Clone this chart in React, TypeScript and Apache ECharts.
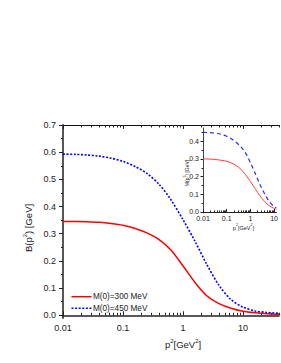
import React, { useEffect, useRef } from "react";
import * as echarts from "echarts";

const FONT = "Liberation Sans, Arial, sans-serif";

// main plot: B(p^2) [GeV] vs p^2 [GeV^2]
const p2Main = [0.01, 0.016, 0.025, 0.04, 0.063, 0.1, 0.16, 0.25, 0.4, 0.63, 1, 1.6, 2.5, 4, 6.3, 10, 16, 25, 40];
const bM300 = [0.345, 0.3447, 0.3438, 0.3418, 0.3375, 0.331, 0.3195, 0.303, 0.278, 0.24, 0.182, 0.12, 0.072, 0.043, 0.026, 0.015, 0.0092, 0.0058, 0.0037];
const bM450 = [0.593, 0.592, 0.5895, 0.5855, 0.578, 0.566, 0.547, 0.522, 0.482, 0.425, 0.352, 0.271, 0.187, 0.11, 0.058, 0.03, 0.016, 0.0105, 0.007];

// inset: M(p^2) [GeV] vs p^2 [GeV^2]
const p2Inset = [0.01, 0.016, 0.025, 0.04, 0.063, 0.1, 0.16, 0.25, 0.4, 0.63, 1, 1.6, 2.5, 4, 6.3, 10, 12.5];
const mM300 = [0.3, 0.2995, 0.298, 0.2955, 0.2915, 0.287, 0.277, 0.262, 0.241, 0.21, 0.172, 0.131, 0.092, 0.059, 0.035, 0.02, 0.015];
const mM450 = [0.45, 0.4495, 0.4475, 0.444, 0.438, 0.428, 0.413, 0.394, 0.368, 0.333, 0.279, 0.218, 0.157, 0.102, 0.058, 0.03, 0.022];

const seriesNames = ["M(0)=300 MeV", "M(0)=450 MeV"];

const xMajorMain = [0.01, 0.1, 1, 10];
const xMinorMain = [0.02, 0.03, 0.04, 0.05, 0.06, 0.07, 0.08, 0.09, 0.2, 0.3, 0.4, 0.5, 0.6, 0.7, 0.8, 0.9, 2, 3, 4, 5, 6, 7, 8, 9, 20, 30, 40];
const xMinorInset = [0.02, 0.03, 0.04, 0.05, 0.06, 0.07, 0.08, 0.09, 0.2, 0.3, 0.4, 0.5, 0.6, 0.7, 0.8, 0.9, 2, 3, 4, 5, 6, 7, 8, 9];
const yMajorMain = [0, 0.1, 0.2, 0.3, 0.4, 0.5, 0.6, 0.7];
const yMinorMain = [0.05, 0.15, 0.25, 0.35, 0.45, 0.55, 0.65];
const yMajorInset = [0, 0.1, 0.2, 0.3, 0.4];
const yMinorInset = [0.05, 0.15, 0.25, 0.35, 0.45];

const pairs = (xs: number[], ys: number[]) => xs.map((x, i) => [x, ys[i]]);

const TXT = "#222";

function richLabel(parts: string, size: number, supSize: number) {
  return {
    text: parts,
    rich: {
      a: { fontSize: size, fontFamily: FONT, fill: TXT, verticalAlign: "bottom", lineHeight: size + 2 },
      s: { fontSize: supSize, fontFamily: FONT, fill: TXT, verticalAlign: "top", lineHeight: size + 2 },
    },
    align: "center",
    verticalAlign: "middle",
  };
}

export default function App() {
  const ref = useRef<HTMLDivElement>(null);
  useEffect(() => {
    if (!ref.current) return;
    const chart = echarts.init(ref.current, null, { renderer: "svg" });

    const logX = (grid: number, pos: string, extra: any) => ({
      type: "log",
      logBase: 10,
      gridIndex: grid,
      position: pos,
      splitLine: { show: false },
      ...extra,
    });
    const valY = (grid: number, extra: any) => ({
      type: "value",
      gridIndex: grid,
      position: "left",
      splitLine: { show: false },
      ...extra,
    });

    const mainX = { min: 0.01, max: 40 };
    const insetX = { min: 0.01, max: 12.5 };
    const mainY = { min: -0.01, max: 0.7 };
    const insetY = { min: -0.006, max: 0.475 };

    chart.setOption({
      animation: false,
      grid: [
        { left: 63, top: 125, width: 216, height: 193 },
        { left: 203, top: 128, width: 78, height: 85 },
      ],
      xAxis: [
        logX(0, "bottom", {
          ...mainX,
          axisLine: { lineStyle: { color: "#222", width: 1.5 } },
          axisTick: { inside: true, length: 4, customValues: xMajorMain, lineStyle: { color: "#222" } },
          axisLabel: { customValues: xMajorMain, fontSize: 9, margin: 5, color: TXT, fontFamily: FONT, formatter: (v: number) => String(v) },
        }),
        logX(0, "bottom", {
          ...mainX,
          axisLine: { show: false },
          axisTick: { inside: true, length: 2.5, customValues: xMinorMain, lineStyle: { color: "#222" } },
          axisLabel: { show: false },
        }),
        logX(0, "top", {
          ...mainX,
          axisLine: { lineStyle: { color: "#111", width: 1.2 } },
          axisTick: { inside: true, length: 4, customValues: xMajorMain, lineStyle: { color: "#222" } },
          axisLabel: { show: false },
        }),
        logX(0, "top", {
          ...mainX,
          axisLine: { show: false },
          axisTick: { inside: true, length: 2.5, customValues: xMinorMain, lineStyle: { color: "#222" } },
          axisLabel: { show: false },
        }),
        logX(1, "bottom", {
          ...insetX,
          axisLine: { lineStyle: { color: "#222", width: 1 } },
          axisTick: { inside: true, length: 3, customValues: xMajorMain, lineStyle: { color: "#222" } },
          axisLabel: { customValues: xMajorMain, fontSize: 7, margin: 2, color: TXT, fontFamily: FONT, formatter: (v: number) => String(v) },
        }),
        logX(1, "bottom", {
          ...insetX,
          axisLine: { show: false },
          axisTick: { inside: true, length: 1.5, customValues: xMinorInset, lineStyle: { color: "#222" } },
          axisLabel: { show: false },
        }),
      ],
      yAxis: [
        valY(0, {
          ...mainY,
          axisLine: { show: true, lineStyle: { color: "#444", width: 1.8 } },
          axisTick: { show: true, length: 4, customValues: yMajorMain, lineStyle: { color: "#222" } },
          axisLabel: { customValues: yMajorMain, fontSize: 9, margin: 7, color: TXT, fontFamily: FONT, formatter: (v: number) => v.toFixed(1) },
        }),
        valY(0, {
          ...mainY,
          axisLine: { show: false },
          axisTick: { show: true, length: 2, customValues: yMinorMain, lineStyle: { color: "#222" } },
          axisLabel: { show: false },
        }),
        valY(1, {
          ...insetY,
          axisLine: { show: true, lineStyle: { color: "#444", width: 1 } },
          axisTick: { show: true, length: 2.5, customValues: yMajorInset, lineStyle: { color: "#222" } },
          axisLabel: { customValues: yMajorInset, fontSize: 7, margin: 4, color: TXT, fontFamily: FONT, formatter: (v: number) => v.toFixed(1) },
        }),
        valY(1, {
          ...insetY,
          axisLine: { show: false },
          axisTick: { show: true, length: 1.5, customValues: yMinorInset, lineStyle: { color: "#222" } },
          axisLabel: { show: false },
        }),
      ],
      series: [
        {
          name: seriesNames[0], type: "line", xAxisIndex: 0, yAxisIndex: 0,
          data: pairs(p2Main, bM300), symbol: "none", smooth: 0.3,
          lineStyle: { color: "#ff0000", width: 1.5 },
        },
        {
          name: seriesNames[1], type: "line", xAxisIndex: 0, yAxisIndex: 0,
          data: pairs(p2Main, bM450), symbol: "none", smooth: 0.3,
          lineStyle: { color: "#0000ff", width: 1.6, type: [2, 1.6] },
        },
        {
          name: "inset300", type: "line", xAxisIndex: 4, yAxisIndex: 2,
          data: pairs(p2Inset, mM300), symbol: "none", smooth: 0.3,
          lineStyle: { color: "#ff3b3b", width: 1 },
        },
        {
          name: "inset450", type: "line", xAxisIndex: 4, yAxisIndex: 2,
          data: pairs(p2Inset, mM450), symbol: "none", smooth: 0.3,
          lineStyle: { color: "#2a2aff", width: 1.2, type: [4, 3] },
        },
      ],
      graphic: [
        { type: "line", shape: { x1: 71.5, y1: 296.7, x2: 91.5, y2: 296.7 }, style: { stroke: "#ff0000", lineWidth: 1.5 } },
        { type: "line", shape: { x1: 71.5, y1: 308.3, x2: 91.5, y2: 308.3 }, style: { stroke: "#0000ff", lineWidth: 1.6, lineDash: [2, 1.6] } },
        { type: "text", x: 93, y: 296.7, style: { text: seriesNames[0], fontSize: 8.2, fontFamily: FONT, fill: TXT, align: "left", verticalAlign: "middle" } },
        { type: "text", x: 93, y: 308.3, style: { text: seriesNames[1], fontSize: 8.2, fontFamily: FONT, fill: TXT, align: "left", verticalAlign: "middle" } },
        { type: "text", x: 28, y: 228, rotation: Math.PI / 2, style: richLabel("{a|B(p}{s|2}{a|) [GeV]}", 9.5, 6) },
        { type: "text", x: 183, y: 344, style: richLabel("{a|p}{s|2}{a|[GeV}{s|2}{a|]}", 9.5, 6) },
        { type: "text", x: 186, y: 173, rotation: Math.PI / 2, style: richLabel("{a|M(p}{s|2}{a|) [GeV]}", 5, 3.5) },
        { type: "text", x: 243.5, y: 227, style: richLabel("{a|p}{s|2}{a|[GeV}{s|2}{a|]}", 5.5, 3.8) },
      ],
    });
    return () => chart.dispose();
  }, []);
  return <div ref={ref} style={{ position: "absolute", left: 0, top: 0, width: 281, height: 363 }} />;
}
